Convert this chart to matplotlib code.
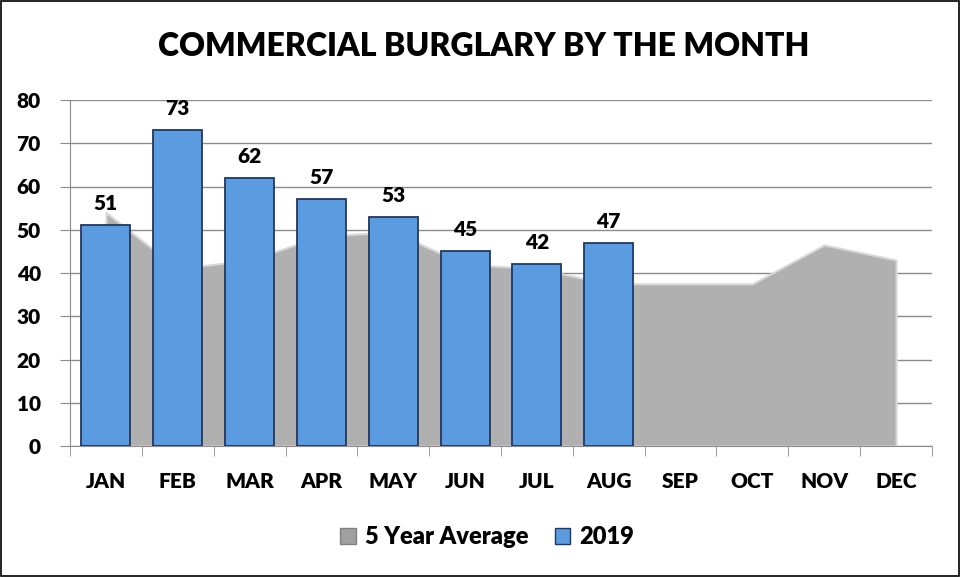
import numpy as np
import matplotlib.pyplot as plt
from matplotlib.patches import Rectangle

months = ['JAN', 'FEB', 'MAR', 'APR', 'MAY', 'JUN', 'JUL', 'AUG', 'SEP', 'OCT', 'NOV', 'DEC']
avg5 = [54, 41, 43, 48.5, 49.5, 42, 41, 37.5, 37.5, 37.5, 46.5, 43]
y2019 = [51, 73, 62, 57, 53, 45, 42, 47]

plt.rcParams['font.family'] = ['Lato', 'DejaVu Sans']
W = 'heavy'

fig = plt.figure(figsize=(9.61, 5.77), dpi=100)
ax = fig.add_axes([70/961, 1-446/577, 862/961, 346/577])

x = np.arange(len(months))
ax.fill_between(x, avg5, 0, color='#b0b0b0', edgecolor='#d8d8d8', linewidth=1.5, zorder=2)
bars = ax.bar(x[:len(y2019)], y2019, width=0.68, color='#5b9be0', edgecolor='#1f3864',
              linewidth=1.3, zorder=3)
for b, v in zip(bars, y2019):
    ax.text(b.get_x() + b.get_width()/2, v + 2.8, str(v), ha='center', va='bottom',
            fontsize=15, fontweight=W, zorder=4)

ax.set_xlim(-0.5, 11.5)
ax.set_ylim(0, 80)
ax.set_yticks(range(0, 81, 10))
ax.yaxis.grid(True, color='#8c8c8c', linewidth=1)
ax.set_axisbelow(True)
ax.set_xticks(x)
ax.set_xticklabels(months)
ax.set_xticks(np.arange(-0.5, 12, 1), minor=True)
ax.tick_params(axis='x', which='major', length=0, pad=19, labelsize=15)
ax.tick_params(axis='x', which='minor', length=7, color='#8c8c8c')
ax.tick_params(axis='y', length=7, color='#8c8c8c', labelsize=15, pad=14)
for lab in ax.get_xticklabels() + ax.get_yticklabels():
    lab.set_fontweight(W)
for s in ['top', 'right']:
    ax.spines[s].set_visible(False)
ax.spines['left'].set_color('#8c8c8c')
ax.spines['bottom'].set_color('#8c8c8c')

fig.text(0.503, 1-47/577, 'COMMERCIAL BURGLARY BY THE MONTH', ha='center', va='center',
         fontsize=23, fontweight=W)

h1 = Rectangle((0, 0), 1, 1, facecolor='#a0a0a0', edgecolor='#808080')
h2 = Rectangle((0, 0), 1, 1, facecolor='#5b9be0', edgecolor='#1f3864')
fig.legend([h1, h2], ['5 Year Average', '2019'], loc='center', bbox_to_anchor=(0.507, 1-537/577),
           ncol=2, frameon=False, handlelength=0.65, handleheight=0.65,
           handletextpad=0.4, columnspacing=1.1, prop={'weight': W, 'size': 17})

fig.add_artist(Rectangle((0.001, 0.001), 0.997, 0.997, transform=fig.transFigure,
                         fill=False, edgecolor='black', linewidth=1.2))
fig.savefig('out.png', dpi=100)
